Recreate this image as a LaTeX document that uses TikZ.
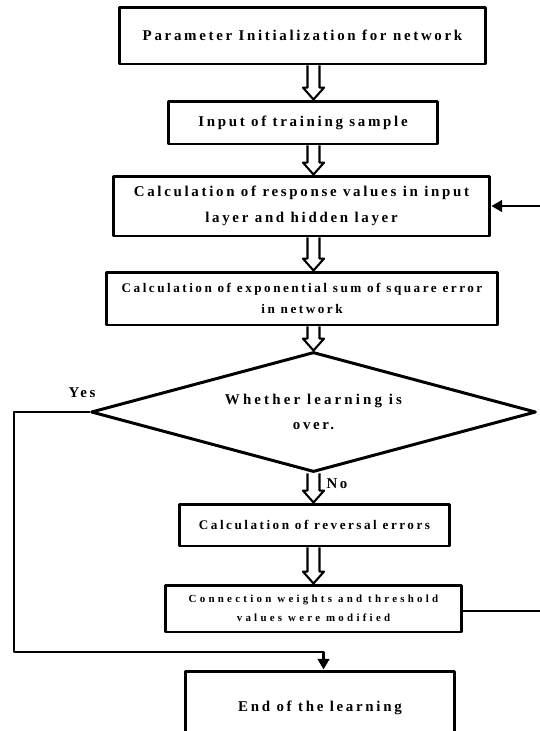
\documentclass[tikz,border=0pt]{standalone}
\usepackage{fontspec}
\setmainfont{Liberation Serif}
\usetikzlibrary{shapes.geometric,arrows.meta,calc}
% outlined arrow between two boxes
\newcommand{\hollowarrow}[2]{%
\draw[line width=1.2pt, fill=white] let \p1=(#1), \p2=(#2) in
(\x1-3.4pt,\y1) -- (\x1-3.4pt,\y2+6.8pt) -- (\x1-6pt,\y2+6.8pt) -- (\x1,\y2)
-- (\x1+6pt,\y2+6.8pt) -- (\x1+3.4pt,\y2+6.8pt) -- (\x1+3.4pt,\y1);}
\begin{document}
\begin{tikzpicture}[x=0.02cm, y=-0.02cm, line join=round,
  box/.style={draw, line width=1.7pt, align=center, inner sep=0pt},
  big/.style={font=\bfseries\fontsize{8.5}{14.7}\selectfont\addfontfeature{LetterSpace=18}},
  mid/.style={font=\bfseries\fontsize{7.5}{11.9}\selectfont\addfontfeature{LetterSpace=19}},
  small/.style={font=\bfseries\fontsize{6.2}{10.8}\selectfont\addfontfeature{LetterSpace=30}},
  link/.style={line width=1.6pt, -{Triangle[length=6pt, width=6.5pt]}}]
\useasboundingbox (0,0) rectangle (539,731);
\node[box, big, minimum width=7.34cm, minimum height=1.14cm] (init) at (302.5,35.5) {Parameter Initialization for network};
\node[box, big, minimum width=5.4cm, minimum height=0.86cm] (input) at (303,122.5) {Input of training sample};
\node[box, big, minimum width=7.54cm, minimum height=1.2cm] (resp) at (301.5,206) {Calculation of response values in input\\layer and hidden layer};
\node[box, mid, minimum width=7.84cm, minimum height=1.06cm] (expo) at (302,298.5) {Calculation of exponential sum of square error\\in network};
\node[box, big, diamond, aspect=3.7, minimum width=8.9cm, minimum height=2.4cm] (dec) at (313.5,412) {\addfontfeature{LetterSpace=21}Whether learning is\\over.};
\node[box, mid, minimum width=5.42cm, minimum height=0.84cm] (rev) at (314.5,525) {Calculation of reversal errors};
\node[box, small, minimum width=5.94cm, minimum height=0.94cm] (upd) at (313.5,608.5) {Connection weights and threshold\\values were modified};
\node[box, big, minimum width=5.4cm, minimum height=1.48cm] (fin) at (320,708) {End of the learning};
\node[big] (yes) at (82,393) {Yes};
\node[big] (no) at (337,484) {No};
\hollowarrow{init.south -| dec.north}{input.north -| dec.north}
\hollowarrow{input.south -| dec.north}{resp.north -| dec.north}
\hollowarrow{resp.south -| dec.north}{expo.north -| dec.north}
\hollowarrow{expo.south -| dec.north}{dec.north}
\hollowarrow{dec.south}{rev.north -| dec.south}
\hollowarrow{rev.south -| dec.south}{upd.north -| dec.south}
\coordinate (back) at (541,611);
\draw[link] (upd.east |- back) -- (back) |- (resp.east);
\coordinate (side) at (14,652);
\draw[link] (dec.west) -| (side) -| ([xshift=2pt]fin.north);
\end{tikzpicture}
\end{document}
